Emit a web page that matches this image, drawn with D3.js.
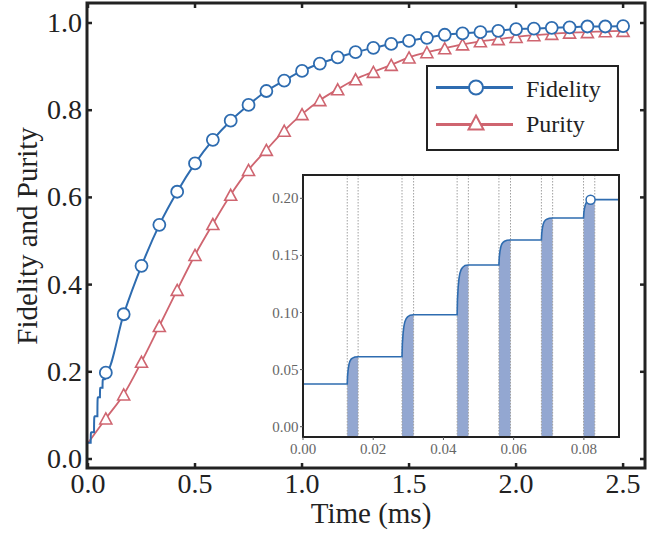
<!DOCTYPE html>
<html><head><meta charset="utf-8">
<script src="https://cdn.jsdelivr.net/npm/d3@7"></script>
<style>body{margin:0;background:#fff}svg{display:block}</style>
</head><body>
<svg id="c" width="672" height="536"></svg>
<script>
// ---- data ----
const markerTimes = [0.0833,0.1667,0.25,0.3333,0.4167,0.5,0.5833,0.6667,0.75,0.8333,0.9167,1.0,1.0833,1.1667,1.25,1.3333,1.4167,1.5,1.5833,1.6667,1.75,1.8333,1.9167,2.0,2.0833,2.1667,2.25,2.3333,2.4167,2.5];
const fidelity = [0.198,0.332,0.443,0.537,0.613,0.678,0.732,0.776,0.812,0.844,0.868,0.890,0.907,0.921,0.933,0.943,0.952,0.959,0.966,0.973,0.976,0.979,0.982,0.986,0.987,0.989,0.990,0.992,0.992,0.993];
const purity = [0.093,0.148,0.223,0.305,0.388,0.468,0.539,0.606,0.663,0.709,0.753,0.791,0.823,0.848,0.871,0.888,0.904,0.921,0.933,0.942,0.951,0.958,0.963,0.968,0.972,0.975,0.978,0.979,0.981,0.982];
const startValue = 0.037;
// inset: pulse windows [t0, t1, level before, level after]
const pulseStart = [0.0126,0.0282,0.0439,0.0558,0.0679,0.0799];
const pulseEnd   = [0.0157,0.0315,0.0471,0.0591,0.0711,0.0831];
const levelBefore = [0.0374,0.0613,0.0980,0.1416,0.1635,0.1827];
const levelAfter  = [0.0613,0.0980,0.1416,0.1635,0.1827,0.1988];
// rise shape inside a pulse window (relative time, relative rise)
const riseRel  = [0,0.03,0.09,0.16,0.24,0.36,0.48,0.70,1.0];
const riseFrac = [0,0.30,0.55,0.72,0.83,0.91,0.95,0.99,1.0];
const insetMarkerT = 0.0819, insetMarkerY = 0.1988;
const insetEnd = 0.09;
const xTicks = [0,0.5,1.0,1.5,2.0,2.5];
const yTicks = [0,0.2,0.4,0.6,0.8,1.0];
const ixTicks = [0,0.02,0.04,0.06,0.08];
const iyTicks = [0,0.05,0.10,0.15,0.20];

// ---- build inset series ----
const insetPts = [[0, levelBefore[0]]];
const pulses = [];
pulseStart.forEach((t0,i)=>{
  const t1 = pulseEnd[i], a = levelBefore[i], b = levelAfter[i];
  const seg = riseRel.map((r,j)=>[t0 + r*(t1-t0), a + riseFrac[j]*(b-a)]);
  pulses.push(seg);
  seg.forEach(p=>insetPts.push(p));
});
insetPts.push([insetEnd, levelAfter[levelAfter.length-1]]);

const BLUE = "#2e6cb0", RED = "#cf6570", FILL = "#93a7d1", INK = "#222";
const svg = d3.select("#c");
const serif = "'Liberation Serif','Times New Roman',serif";

// ---- main scales ----
const x = d3.scaleLinear().domain([0,2.6]).range([88,644.5]);
const y = d3.scaleLinear().domain([0,1]).range([459,23]);
const X0 = 87, X1 = 645, Y0 = 3, Y1 = 468;

// main lines
const fidPts = insetPts.filter(p=>p[0] < markerTimes[0]).concat(markerTimes.map((t,i)=>[t,fidelity[i]]));
const purPts = [[0,startValue]].concat(markerTimes.map((t,i)=>[t,purity[i]]));
const line = d3.line().x(d=>x(d[0])).y(d=>y(d[1])).curve(d3.curveMonotoneX);
svg.append("path").attr("d", line(purPts)).attr("fill","none").attr("stroke",RED).attr("stroke-width",1.8);
svg.append("path").attr("d", line(fidPts)).attr("fill","none").attr("stroke",BLUE).attr("stroke-width",2);

function tri(cx, cy, w, h){ return `M${cx},${cy-h/2}L${cx+w/2},${cy+h/2}L${cx-w/2},${cy+h/2}Z`; }
svg.append("g").selectAll("path").data(markerTimes).join("path")
  .attr("d",(t,i)=>tri(x(t), y(purity[i]), 12, 11))
  .attr("fill","#fff").attr("stroke",RED).attr("stroke-width",1.6);
svg.append("g").selectAll("circle").data(markerTimes).join("circle")
  .attr("cx",t=>x(t)).attr("cy",(t,i)=>y(fidelity[i])).attr("r",6)
  .attr("fill","#fff").attr("stroke",BLUE).attr("stroke-width",1.8);

// main frame + ticks
svg.append("rect").attr("x",X0).attr("y",Y0).attr("width",X1-X0).attr("height",Y1-Y0)
  .attr("fill","none").attr("stroke",INK).attr("stroke-width",3);
const tk = svg.append("g").attr("stroke",INK).attr("stroke-width",2.5);
xTicks.forEach(t=>{
  tk.append("line").attr("x1",x(t)).attr("x2",x(t)).attr("y1",Y1).attr("y2",Y1-5);
  tk.append("line").attr("x1",x(t)).attr("x2",x(t)).attr("y1",Y0).attr("y2",Y0+5);
});
yTicks.forEach(v=>{
  tk.append("line").attr("x1",X0).attr("x2",X0+5).attr("y1",y(v)).attr("y2",y(v));
  tk.append("line").attr("x1",X1).attr("x2",X1-5).attr("y1",y(v)).attr("y2",y(v));
});
svg.append("g").selectAll("text").data(xTicks).join("text")
  .attr("x",t=>x(t)).attr("y",493).attr("text-anchor","middle")
  .attr("font-family",serif).attr("font-size",28).attr("fill",INK).text(t=>t.toFixed(1));
svg.append("g").selectAll("text").data(yTicks).join("text")
  .attr("x",82).attr("y",v=>y(v)+9).attr("text-anchor","end")
  .attr("font-family",serif).attr("font-size",28).attr("fill",INK).text(v=>v.toFixed(1));
svg.append("text").attr("x",371).attr("y",523).attr("text-anchor","middle")
  .attr("font-family",serif).attr("font-size",29).attr("fill",INK).text("Time (ms)");
svg.append("text").attr("transform","translate(37,236) rotate(-90)").attr("text-anchor","middle")
  .attr("font-family",serif).attr("font-size",29).attr("fill",INK).text("Fidelity and Purity");

// legend
const lg = svg.append("g");
lg.append("rect").attr("x",427).attr("y",66).attr("width",191).attr("height",84)
  .attr("fill","#fff").attr("stroke",INK).attr("stroke-width",2);
lg.append("line").attr("x1",436).attr("x2",513).attr("y1",87.5).attr("y2",87.5).attr("stroke",BLUE).attr("stroke-width",3);
lg.append("circle").attr("cx",476).attr("cy",87.5).attr("r",7).attr("fill","#fff").attr("stroke",BLUE).attr("stroke-width",2);
lg.append("line").attr("x1",436).attr("x2",513).attr("y1",124.5).attr("y2",124.5).attr("stroke",RED).attr("stroke-width",3);
lg.append("path").attr("d",tri(476,122.5,15,14)).attr("fill","#fff").attr("stroke",RED).attr("stroke-width",2);
lg.append("text").attr("x",526).attr("y",96.5).attr("font-family",serif).attr("font-size",24).attr("fill",INK).text("Fidelity");
lg.append("text").attr("x",526).attr("y",132).attr("font-family",serif).attr("font-size",24).attr("fill",INK).text("Purity");

// ---- inset ----
const ix = d3.scaleLinear().domain([0,0.09]).range([303,619]);
const iy = d3.scaleLinear().domain([0,0.2]).range([426.7,198.3]);
const IX0 = 303, IX1 = 619, IY0 = 175, IY1 = 437;
const ig = svg.append("g");
ig.append("rect").attr("x",IX0).attr("y",IY0).attr("width",IX1-IX0).attr("height",IY1-IY0).attr("fill","#fff");
const area = d3.area().x(d=>ix(d[0])).y0(IY1).y1(d=>iy(d[1]));
ig.selectAll("path.pulse").data(pulses).join("path").attr("class","pulse")
  .attr("d",area).attr("fill",FILL);
const dots = ig.append("g").attr("stroke","#a0a0a0").attr("stroke-width",1).attr("stroke-dasharray","1.5,1.5");
pulseStart.concat(pulseEnd).forEach(t=>{
  dots.append("line").attr("x1",ix(t)).attr("x2",ix(t)).attr("y1",IY0).attr("y2",IY1);
});
ig.append("path").attr("d",d3.line().x(d=>ix(d[0])).y(d=>iy(d[1]))(insetPts))
  .attr("fill","none").attr("stroke",BLUE).attr("stroke-width",1.6);
ig.append("circle").attr("cx",ix(insetMarkerT)).attr("cy",iy(insetMarkerY)).attr("r",4.5)
  .attr("fill","#fff").attr("stroke",BLUE).attr("stroke-width",1.5);
ig.append("rect").attr("x",IX0).attr("y",IY0).attr("width",IX1-IX0).attr("height",IY1-IY0)
  .attr("fill","none").attr("stroke",INK).attr("stroke-width",2);
const itk = ig.append("g").attr("stroke","#555").attr("stroke-width",1);
ixTicks.forEach(t=>itk.append("line").attr("x1",ix(t)).attr("x2",ix(t)).attr("y1",IY1).attr("y2",IY1+3));
iyTicks.forEach(v=>itk.append("line").attr("x1",IX0).attr("x2",IX0-3).attr("y1",iy(v)).attr("y2",iy(v)));
ig.append("g").selectAll("text").data(ixTicks).join("text")
  .attr("x",t=>ix(t)).attr("y",453.5).attr("text-anchor","middle")
  .attr("font-family",serif).attr("font-size",15).attr("fill","#666").text(t=>t.toFixed(2));
ig.append("g").selectAll("text").data(iyTicks).join("text")
  .attr("x",298.5).attr("y",v=>iy(v)+5).attr("text-anchor","end")
  .attr("font-family",serif).attr("font-size",15).attr("fill","#666").text(v=>v.toFixed(2));
</script>
</body></html>
